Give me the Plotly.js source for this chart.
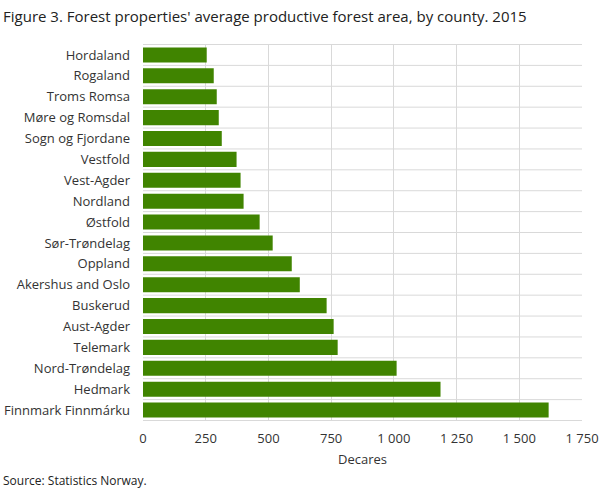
<!DOCTYPE html>
<html>
<head>
<meta charset="utf-8">
<script src="https://cdn.plot.ly/plotly-3.0.1.min.js"></script>
<style>
  html, body { margin: 0; padding: 0; background: #fff; }
  #chart { width: 609px; height: 488px; }
</style>
</head>
<body>
<div id="chart"></div>
<script>
// counties, top to bottom as in the figure
const counties = [
  "Hordaland", "Rogaland", "Troms Romsa", "Møre og Romsdal", "Sogn og Fjordane",
  "Vestfold", "Vest-Agder", "Nordland", "Østfold", "Sør-Trøndelag",
  "Oppland", "Akershus and Oslo", "Buskerud", "Aust-Agder", "Telemark",
  "Nord-Trøndelag", "Hedmark", "Finnmark Finnmárku"
];
// average productive forest area, decares
const decares = [
  254, 282, 294, 302, 314,
  373, 389, 401, 465, 517,
  593, 625, 732, 760, 776,
  1011, 1186, 1617
];
const tickVals = [0, 250, 500, 750, 1000, 1250, 1500, 1750];
const tickText = ["0", "250", "500", "750", "1 000", "1 250", "1 500", "1 750"];

const gridColor = "#d9d9d9";

const trace = {
  type: "bar",
  orientation: "h",
  x: decares,
  y: counties,
  marker: { color: "#408400" },
  hoverinfo: "x+y"
};

// horizontal grid lines sit between the categories
const boundaryLines = counties.map((c, i) => ({
  type: "line", layer: "below",
  xref: "paper", yref: "y",
  x0: 0, x1: 1, y0: i - 0.5, y1: i - 0.5,
  line: { color: gridColor, width: 1 }
}));
boundaryLines.push({
  type: "line", layer: "below",
  xref: "paper", yref: "y",
  x0: 0, x1: 1, y0: counties.length - 0.5, y1: counties.length - 0.5,
  line: { color: gridColor, width: 1 }
});

const layout = {
  width: 609,
  height: 488,
  margin: { l: 143, r: 27, t: 44, b: 67 },
  font: { family: "Open Sans, sans-serif", size: 13, color: "#333" },
  paper_bgcolor: "#fff",
  plot_bgcolor: "#fff",
  bargap: 0.28,
  showlegend: false,
  title: {
    text: "Figure 3. Forest properties' average productive forest area, by county. 2015",
    font: { size: 15, color: "#222" },
    x: 0.005, xanchor: "left", xref: "container",
    y: 0.965, yanchor: "middle", yref: "container"
  },
  xaxis: {
    range: [0, 1750],
    tickvals: tickVals,
    ticktext: tickText,
    showgrid: true,
    gridcolor: gridColor,
    gridwidth: 1,
    zeroline: false,
    showline: false,
    ticks: "",
    ticklabelstandoff: 8,
    fixedrange: true,
    title: { text: "Decares", standoff: 8, font: { size: 13, color: "#333" } }
  },
  yaxis: {
    type: "category",
    autorange: "reversed",
    showgrid: false,
    ticks: "",
    ticklabelstandoff: 12,
    showline: false,
    fixedrange: true
  },
  shapes: boundaryLines,
  annotations: [
    {
      text: "Source: Statistics Norway.",
      xref: "paper", yref: "paper",
      x: 0, y: 0, xshift: -142, yshift: -49,
      xanchor: "left", yanchor: "top",
      showarrow: false,
      font: { size: 12, color: "#222" }
    }
  ]
};

Plotly.newPlot("chart", [trace], layout, { displayModeBar: false });
</script>
</body>
</html>
